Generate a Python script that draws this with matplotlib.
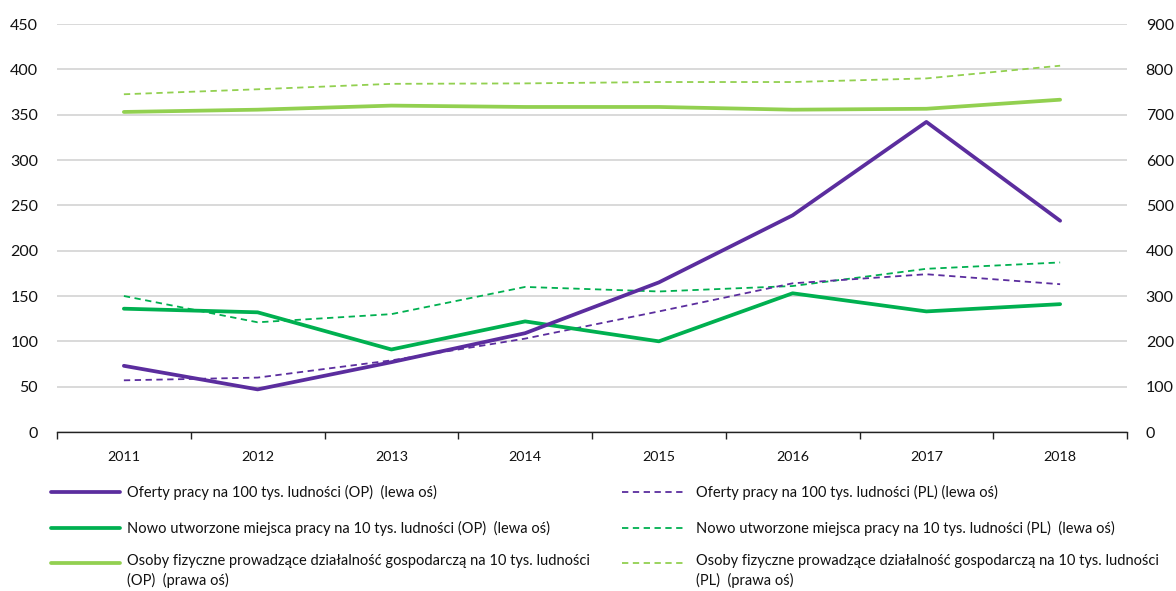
import matplotlib
matplotlib.use("Agg")
import matplotlib.pyplot as plt
from matplotlib.lines import Line2D
import numpy as np

years = ["2011", "2012", "2013", "2014", "2015", "2016", "2017", "2018"]

oferty_op = [73, 47, 77, 109, 165, 239, 342, 233]
oferty_pl = [57, 60, 79, 103, 133, 164, 174, 163]
nowe_op = [136, 132, 91, 122, 100, 153, 133, 141]
nowe_pl = [150, 121, 130, 160, 155, 161, 180, 187]
osoby_op = [706, 711, 720, 717, 717, 711, 713, 733]
osoby_pl = [745, 756, 768, 769, 772, 772, 780, 808]

labels = [
    "Oferty pracy na 100 tys. ludności (OP)  (lewa oś)",
    "Nowo utworzone miejsca pracy na 10 tys. ludności (OP)  (lewa oś)",
    "Osoby fizyczne prowadzące działalność gospodarczą na 10 tys. ludności\n(OP)  (prawa oś)",
    "Oferty pracy na 100 tys. ludności (PL) (lewa oś)",
    "Nowo utworzone miejsca pracy na 10 tys. ludności (PL)  (lewa oś)",
    "Osoby fizyczne prowadzące działalność gospodarczą na 10 tys. ludności\n(PL)  (prawa oś)",
]

PURPLE = "#5B2D9E"
GREEN = "#00B050"
LGREEN = "#92D050"
FONT = "Lato"

W, H = 1176, 591
fig = plt.figure(figsize=(W / 100, H / 100), dpi=100)
ax = fig.add_axes([57 / W, 1 - 432 / H, (1127 - 57) / W, (432 - 24) / H])
ax2 = ax.twinx()

x = np.arange(len(years))
lw_s = 2.7
lw_d = 1.3
dash = (3.5, 2.5)

ax2.plot(x, osoby_pl, color=LGREEN, lw=lw_d, dashes=dash, zorder=3)
ax2.plot(x, osoby_op, color=LGREEN, lw=lw_s, solid_capstyle="round", zorder=3)
ax.plot(x, nowe_pl, color=GREEN, lw=lw_d, dashes=dash, zorder=3)
ax.plot(x, oferty_pl, color=PURPLE, lw=lw_d, dashes=dash, zorder=3)
ax.plot(x, nowe_op, color=GREEN, lw=lw_s, solid_capstyle="round", zorder=4)
ax.plot(x, oferty_op, color=PURPLE, lw=lw_s, solid_capstyle="round", zorder=4)

ax.set_xlim(-0.5, len(years) - 0.5)
ax.set_ylim(0, 450)
ax2.set_ylim(0, 900)
ax.set_yticks(np.arange(0, 451, 50))
ax2.set_yticks(np.arange(0, 901, 100))
ax.grid(axis="y", color="#D0D0D0", lw=1.1)
ax.set_axisbelow(True)

for a in (ax, ax2):
    for s in ("top", "right", "left"):
        a.spines[s].set_visible(False)
    a.tick_params(axis="y", length=0, labelsize=11.5, pad=13.5)
ax.spines["bottom"].set_color("#222222")
ax.spines["bottom"].set_linewidth(1.0)
ax2.spines["bottom"].set_visible(False)

ax.set_xticks(x)
ax.set_xticklabels(years)
ax.set_xticks(np.arange(-0.5, len(years), 1.0), minor=True)
ax.tick_params(axis="x", which="major", length=0, labelsize=10.3, pad=14)
ax.tick_params(axis="x", which="minor", length=5, width=1.0, color="#222222", direction="out")

for lab in ax.get_xticklabels() + ax.get_yticklabels() + ax2.get_yticklabels():
    lab.set_fontfamily(FONT)
    lab.set_color("#111111")

# legend (manual, two columns)
rows = [492, 528, 563]
styles = [
    (PURPLE, lw_s, None), (GREEN, lw_s, None), (LGREEN, lw_s, None),
    (PURPLE, lw_d, dash), (GREEN, lw_d, dash), (LGREEN, lw_d, dash),
]
cols = [(51, 120, 127), (622, 684, 696)]
LFS = 10.55
for i, lab in enumerate(labels):
    c = i // 3
    r = i % 3
    x0, x1, xt = cols[c]
    y = 1 - rows[r] / H
    color, lw, ds = styles[i]
    ln = Line2D([x0 / W, x1 / W], [y, y], transform=fig.transFigure, color=color, lw=lw)
    if ds is not None:
        ln.set_dashes(ds)
    else:
        ln.set_solid_capstyle("round")
    fig.add_artist(ln)
    if "\n" in lab:
        fig.text(xt / W, y + 9 / H, lab, ha="left", va="top", fontsize=LFS,
                 family=FONT, color="#111111", linespacing=1.45)
    else:
        fig.text(xt / W, y, lab, ha="left", va="center", fontsize=LFS,
                 family=FONT, color="#111111")

fig.savefig("out.png", dpi=100)
